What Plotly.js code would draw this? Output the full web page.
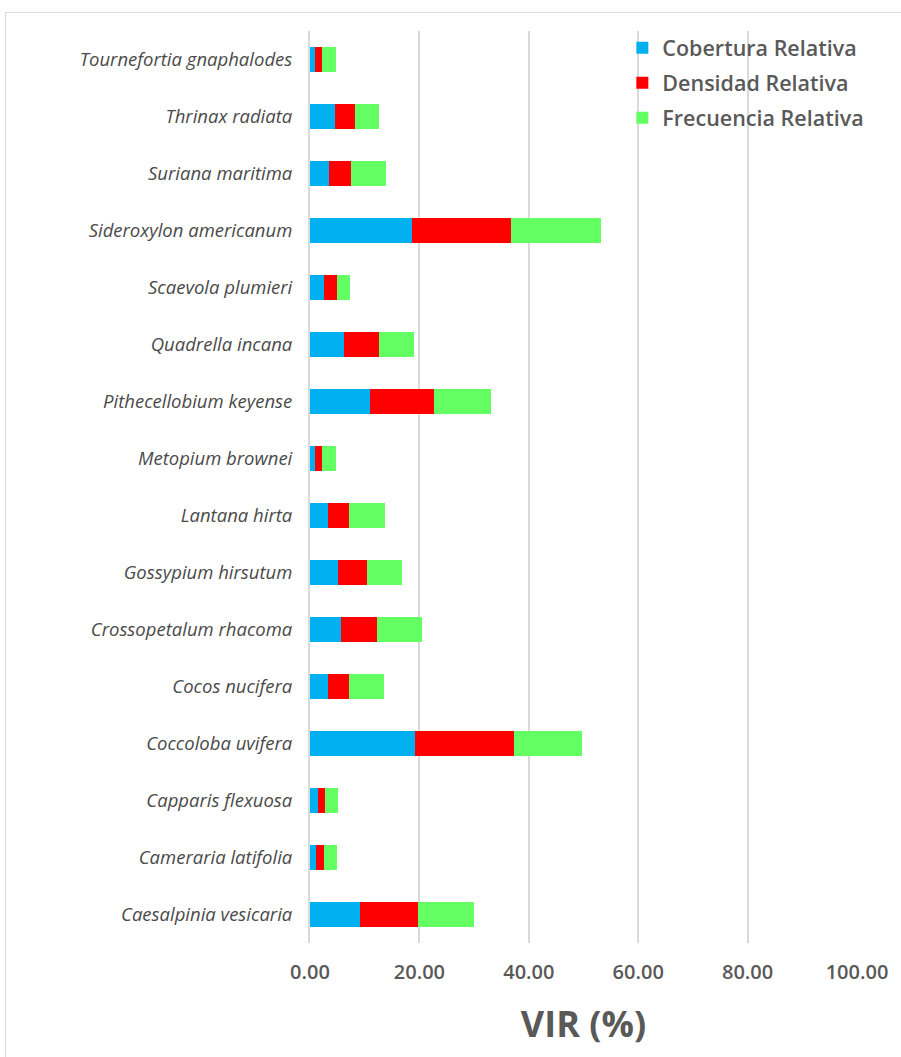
<!DOCTYPE html>
<html>
<head>
<meta charset="utf-8">
<script src="https://cdn.plot.ly/plotly-3.0.1.min.js"></script>
<style>
  html, body { margin: 0; padding: 0; background: #ffffff; }
  #frame { position: absolute; left: 5px; top: 12px; width: 900px; height: 1050px; border: 1px solid #d9d9d9; box-sizing: border-box; }
  #chart { position: absolute; left: 0; top: 0; width: 901px; height: 1057px; }
</style>
</head>
<body>
<div id="frame"></div>
<div id="chart"></div>
<script>
// Species (bottom to top, as on the axis)
const species = [
  "Caesalpinia vesicaria",
  "Cameraria latifolia",
  "Capparis flexuosa",
  "Coccoloba uvifera",
  "Cocos nucifera",
  "Crossopetalum rhacoma",
  "Gossypium hirsutum",
  "Lantana hirta",
  "Metopium brownei",
  "Pithecellobium keyense",
  "Quadrella incana",
  "Scaevola plumieri",
  "Sideroxylon americanum",
  "Suriana maritima",
  "Thrinax radiata",
  "Tournefortia gnaphalodes"
];
const coberturaRelativa = [9.2, 1.15, 1.5, 19.2, 3.2, 5.7, 5.2, 3.2, 1.0, 10.9, 6.2, 2.5, 18.6, 3.5, 4.5, 0.9];
const densidadRelativa  = [10.5, 1.35, 1.3, 18.1, 4.0, 6.6, 5.2, 4.0, 1.25, 11.7, 6.5, 2.4, 18.2, 4.0, 3.7, 1.3];
const frecuenciaRelativa = [10.3, 2.4, 2.3, 12.5, 6.4, 8.2, 6.4, 6.5, 2.45, 10.4, 6.4, 2.5, 16.4, 6.4, 4.4, 2.5];
const seriesNames = ["Cobertura Relativa", "Densidad Relativa", "Frecuencia Relativa"];
const xTicks = [0, 20, 40, 60, 80, 100];
const xTickLabels = ["0.00", "20.00", "40.00", "60.00", "80.00", "100.00"];

const colors = ["#00B0F0", "#FF0000", "#63FF63"];
const seriesValues = [coberturaRelativa, densidadRelativa, frecuenciaRelativa];
const FONT = "'Open Sans', 'Noto Sans', sans-serif";

const traces = seriesValues.map((vals, i) => ({
  type: "bar",
  orientation: "h",
  name: seriesNames[i],
  legendgroup: "g" + i,
  y: species,
  x: vals,
  marker: { color: colors[i], line: { width: 0 } },
  hoverinfo: "x+y+name"
}));

const layout = {
  width: 901,
  height: 1057,
  paper_bgcolor: "rgba(0,0,0,0)",
  plot_bgcolor: "rgba(0,0,0,0)",
  margin: { l: 310, r: 44, t: 31, b: 114 },
  barmode: "stack",
  bargap: 0.56,
  showlegend: true,
  legend: {
    x: 0.571, xanchor: "left",
    y: 1.004, yanchor: "top",
    traceorder: "grouped",
    tracegroupgap: 4,
    bgcolor: "rgba(255,255,255,0)",
    font: { family: FONT, size: 21.5, color: "#595959", weight: 600 }
  },
  xaxis: {
    range: [0, 100],
    tickvals: xTicks,
    ticktext: xTickLabels,
    showgrid: true,
    gridcolor: "#d9d9d9",
    gridwidth: 2,
    zeroline: false,
    showline: false,
    ticks: "outside",
    ticklen: 11,
    tickcolor: "rgba(0,0,0,0)",
    tickfont: { family: FONT, size: 20, color: "#595959", weight: 600 },
    title: {
      text: "<b>VIR (%)</b>",
      font: { family: FONT, size: 36, color: "#595959" },
      standoff: 27
    },
    fixedrange: true
  },
  yaxis: {
    type: "category",
    categoryorder: "array",
    categoryarray: species,
    showgrid: false,
    zeroline: false,
    showline: true,
    linecolor: "#d9d9d9",
    linewidth: 2,
    ticks: "outside",
    ticklen: 12,
    tickcolor: "rgba(0,0,0,0)",
    tickfont: { family: FONT, size: 18.5, color: "#4a4a4a", style: "italic" },
    fixedrange: true
  }
};

Plotly.newPlot("chart", traces, layout, { displayModeBar: false, staticPlot: true });
</script>
</body>
</html>
